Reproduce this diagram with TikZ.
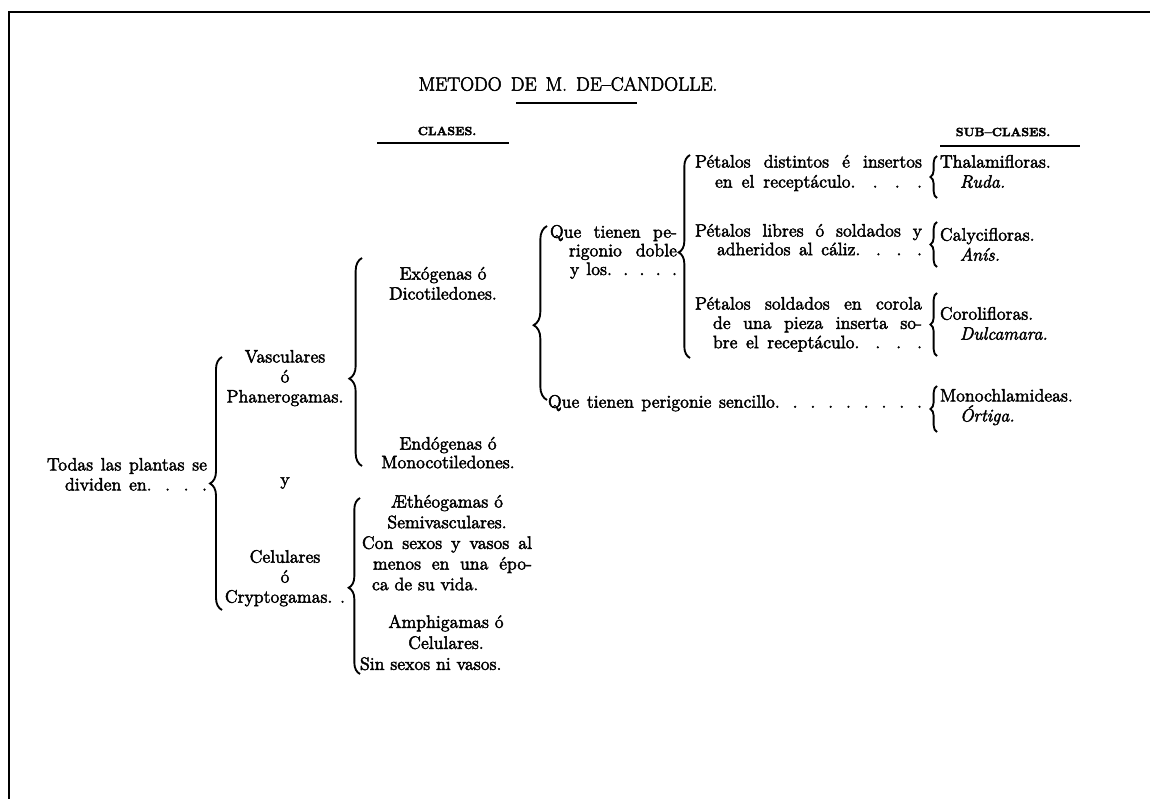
\documentclass[tikz,border=0pt]{standalone}
\usepackage{fontspec}
\setmainfont{Latin Modern Roman}[FakeBold=2.5]
\usetikzlibrary{decorations.pathreplacing}
\newcommand{\jline}[2]{\makebox[#1][s]{#2}}
\tikzset{
  txt/.style={font=\fontsize{13.5}{15}\selectfont, inner sep=0pt, outer sep=0pt},
  lft/.style={txt, align=left, anchor=north west},
  ctr/.style={txt, align=center, anchor=north},
  brc/.style={line width=1.4pt, decorate},
  rulebar/.style={line width=1.3pt},
  framebar/.style={line width=1.6pt},
}
\begin{document}
\begin{tikzpicture}[x=0.75pt,y=-0.75pt]
\useasboundingbox (0,0) rectangle (1150,799);
% frame
\draw[framebar] (9,799) -- (9,12) -- (1150,12);

% headings
\node[txt, font=\fontsize{14.5}{16}\selectfont] (title) at (568,84) {\jline{224pt}{METODO DE M. DE--CANDOLLE.}};
\coordinate (tl1) at (516,103); \coordinate (tl2) at (637,103);
\draw[rulebar] (tl1) -- (tl2);
\node[txt, font=\bfseries\fontsize{9}{10}\selectfont] (clases) at (447,131) {CLASES.};
\coordinate (cl1) at (377,143); \coordinate (cl2) at (509,143);
\draw[rulebar] (cl1) -- (cl2);
\node[txt, font=\bfseries\fontsize{9}{10}\selectfont] (subclases) at (1003,132) {SUB--CLASES.};
\coordinate (sc1) at (940,146); \coordinate (sc2) at (1080,146);
\draw[rulebar] (sc1) -- (sc2);

% column 1
\node[txt, align=right, anchor=north east] (todas) at (207,458)
  {\jline{120pt}{Todas las plantas se}\\\jline{106.5pt}{dividen en. . . .}};

% column 2
\node[ctr] (vasc) at (285,350) {Vasculares\\ó\\Phanerogamas.};
\node[txt, anchor=base] (yconj) at (285,485) {y};
\node[ctr] (celu) at (285,550) {Celulares\\ó\\Cryptogamas. .};

% column 3
\node[ctr] (exo) at (443,267) {Exógenas ó\\Dicotiledones.};
\node[ctr, font=\fontsize{13.5}{14}\selectfont] (endo) at (448,437) {Endógenas ó\\Monocotiledones.};
\node[lft, font=\fontsize{13.5}{15.5}\selectfont] (aeth) at (362,495)
  {\makebox[127.5pt]{Æthéogamas ó}\\\makebox[127.5pt]{Semivasculares.}\\\jline{127.5pt}{Con sexos y vasos al}\\\hspace*{8.25pt}\jline{119.25pt}{menos en una épo-}\\\hspace*{7.5pt}ca de su vida.};
\node[lft, font=\fontsize{13.5}{15.75}\selectfont] (amph) at (360,615)
  {\makebox[129pt]{Amphigamas ó}\\\makebox[129pt]{Celulares.}\\Sin sexos ni vasos.};

% column 4
\node[lft, font=\fontsize{13.5}{14}\selectfont] (que) at (550,225)
  {\jline{95.25pt}{Que tienen pe-}\\\hspace*{14.25pt}\jline{81pt}{rigonio doble}\\\hspace*{15pt}\jline{80.25pt}{y los. . . . .}};
\node[lft] (senc) at (548,395) {\jline{280.5pt}{Que tienen perigonie sencillo. . . . . . . . .}};

% column 5
\node[lft] (p1) at (695,155)
  {\jline{170.25pt}{Pétalos distintos é insertos}\\\hspace*{15pt}\jline{155.25pt}{en el receptáculo. . . .}};
\node[lft, font=\fontsize{13.5}{14}\selectfont] (p2) at (695,224)
  {\jline{170.25pt}{Pétalos libres ó soldados y}\\\hspace*{16.5pt}\jline{153.75pt}{adheridos al cáliz. . . .}};
\node[lft, font=\fontsize{13.5}{14.5}\selectfont] (p3) at (695,297)
  {\jline{170.25pt}{Pétalos soldados en corola}\\\hspace*{13.5pt}\jline{156.75pt}{de una pieza inserta so-}\\\hspace*{13.5pt}\jline{156.75pt}{bre el receptáculo. . . .}};

% sub-classes
\node[lft] (s1) at (940,155) {Thalamifloras.\\\hspace*{15pt}\textit{Ruda.}};
\node[lft] (s2) at (940,228) {Calycifloras.\\\hspace*{15pt}\textit{Anís.}};
\node[lft] (s3) at (940,307) {Corolifloras.\\\hspace*{15pt}\textit{Dulcamara.}};
\node[lft] (s4) at (940,389) {Monochlamideas.\\\hspace*{15pt}\textit{Órtiga.}};

% braces
\coordinate (b1t) at (222,357); \coordinate (b1b) at (222,610);
\draw[brc, decoration={brace, amplitude=9pt, aspect=0.5}] (b1b) -- (b1t);
\coordinate (b2t) at (362,258); \coordinate (b2b) at (362,466);
\draw[brc, decoration={brace, amplitude=9.5pt, aspect=0.42}] (b2b) -- (b2t);
\coordinate (b3t) at (360,498); \coordinate (b3b) at (360,674);
\draw[brc, decoration={brace, amplitude=8.5pt, aspect=0.49}] (b3b) -- (b3t);
\coordinate (b4t) at (547,226); \coordinate (b4b) at (547,400);
\draw[brc, decoration={brace, amplitude=10pt, aspect=0.43}] (b4b) -- (b4t);
\coordinate (b5t) at (690,155); \coordinate (b5b) at (690,358);
\draw[brc, decoration={brace, amplitude=8.5pt, aspect=0.52}] (b5b) -- (b5t);
\coordinate (c1t) at (937,156); \coordinate (c1b) at (937,198);
\draw[brc, decoration={brace, amplitude=5pt, aspect=0.5}] (c1b) -- (c1t);
\coordinate (c2t) at (937,222); \coordinate (c2b) at (937,267);
\draw[brc, decoration={brace, amplitude=5pt, aspect=0.5}] (c2b) -- (c2t);
\coordinate (c3t) at (937,293); \coordinate (c3b) at (937,356);
\draw[brc, decoration={brace, amplitude=5pt, aspect=0.5}] (c3b) -- (c3t);
\coordinate (c4t) at (937,386); \coordinate (c4b) at (937,432);
\draw[brc, decoration={brace, amplitude=5pt, aspect=0.5}] (c4b) -- (c4t);
\end{tikzpicture}
\end{document}
